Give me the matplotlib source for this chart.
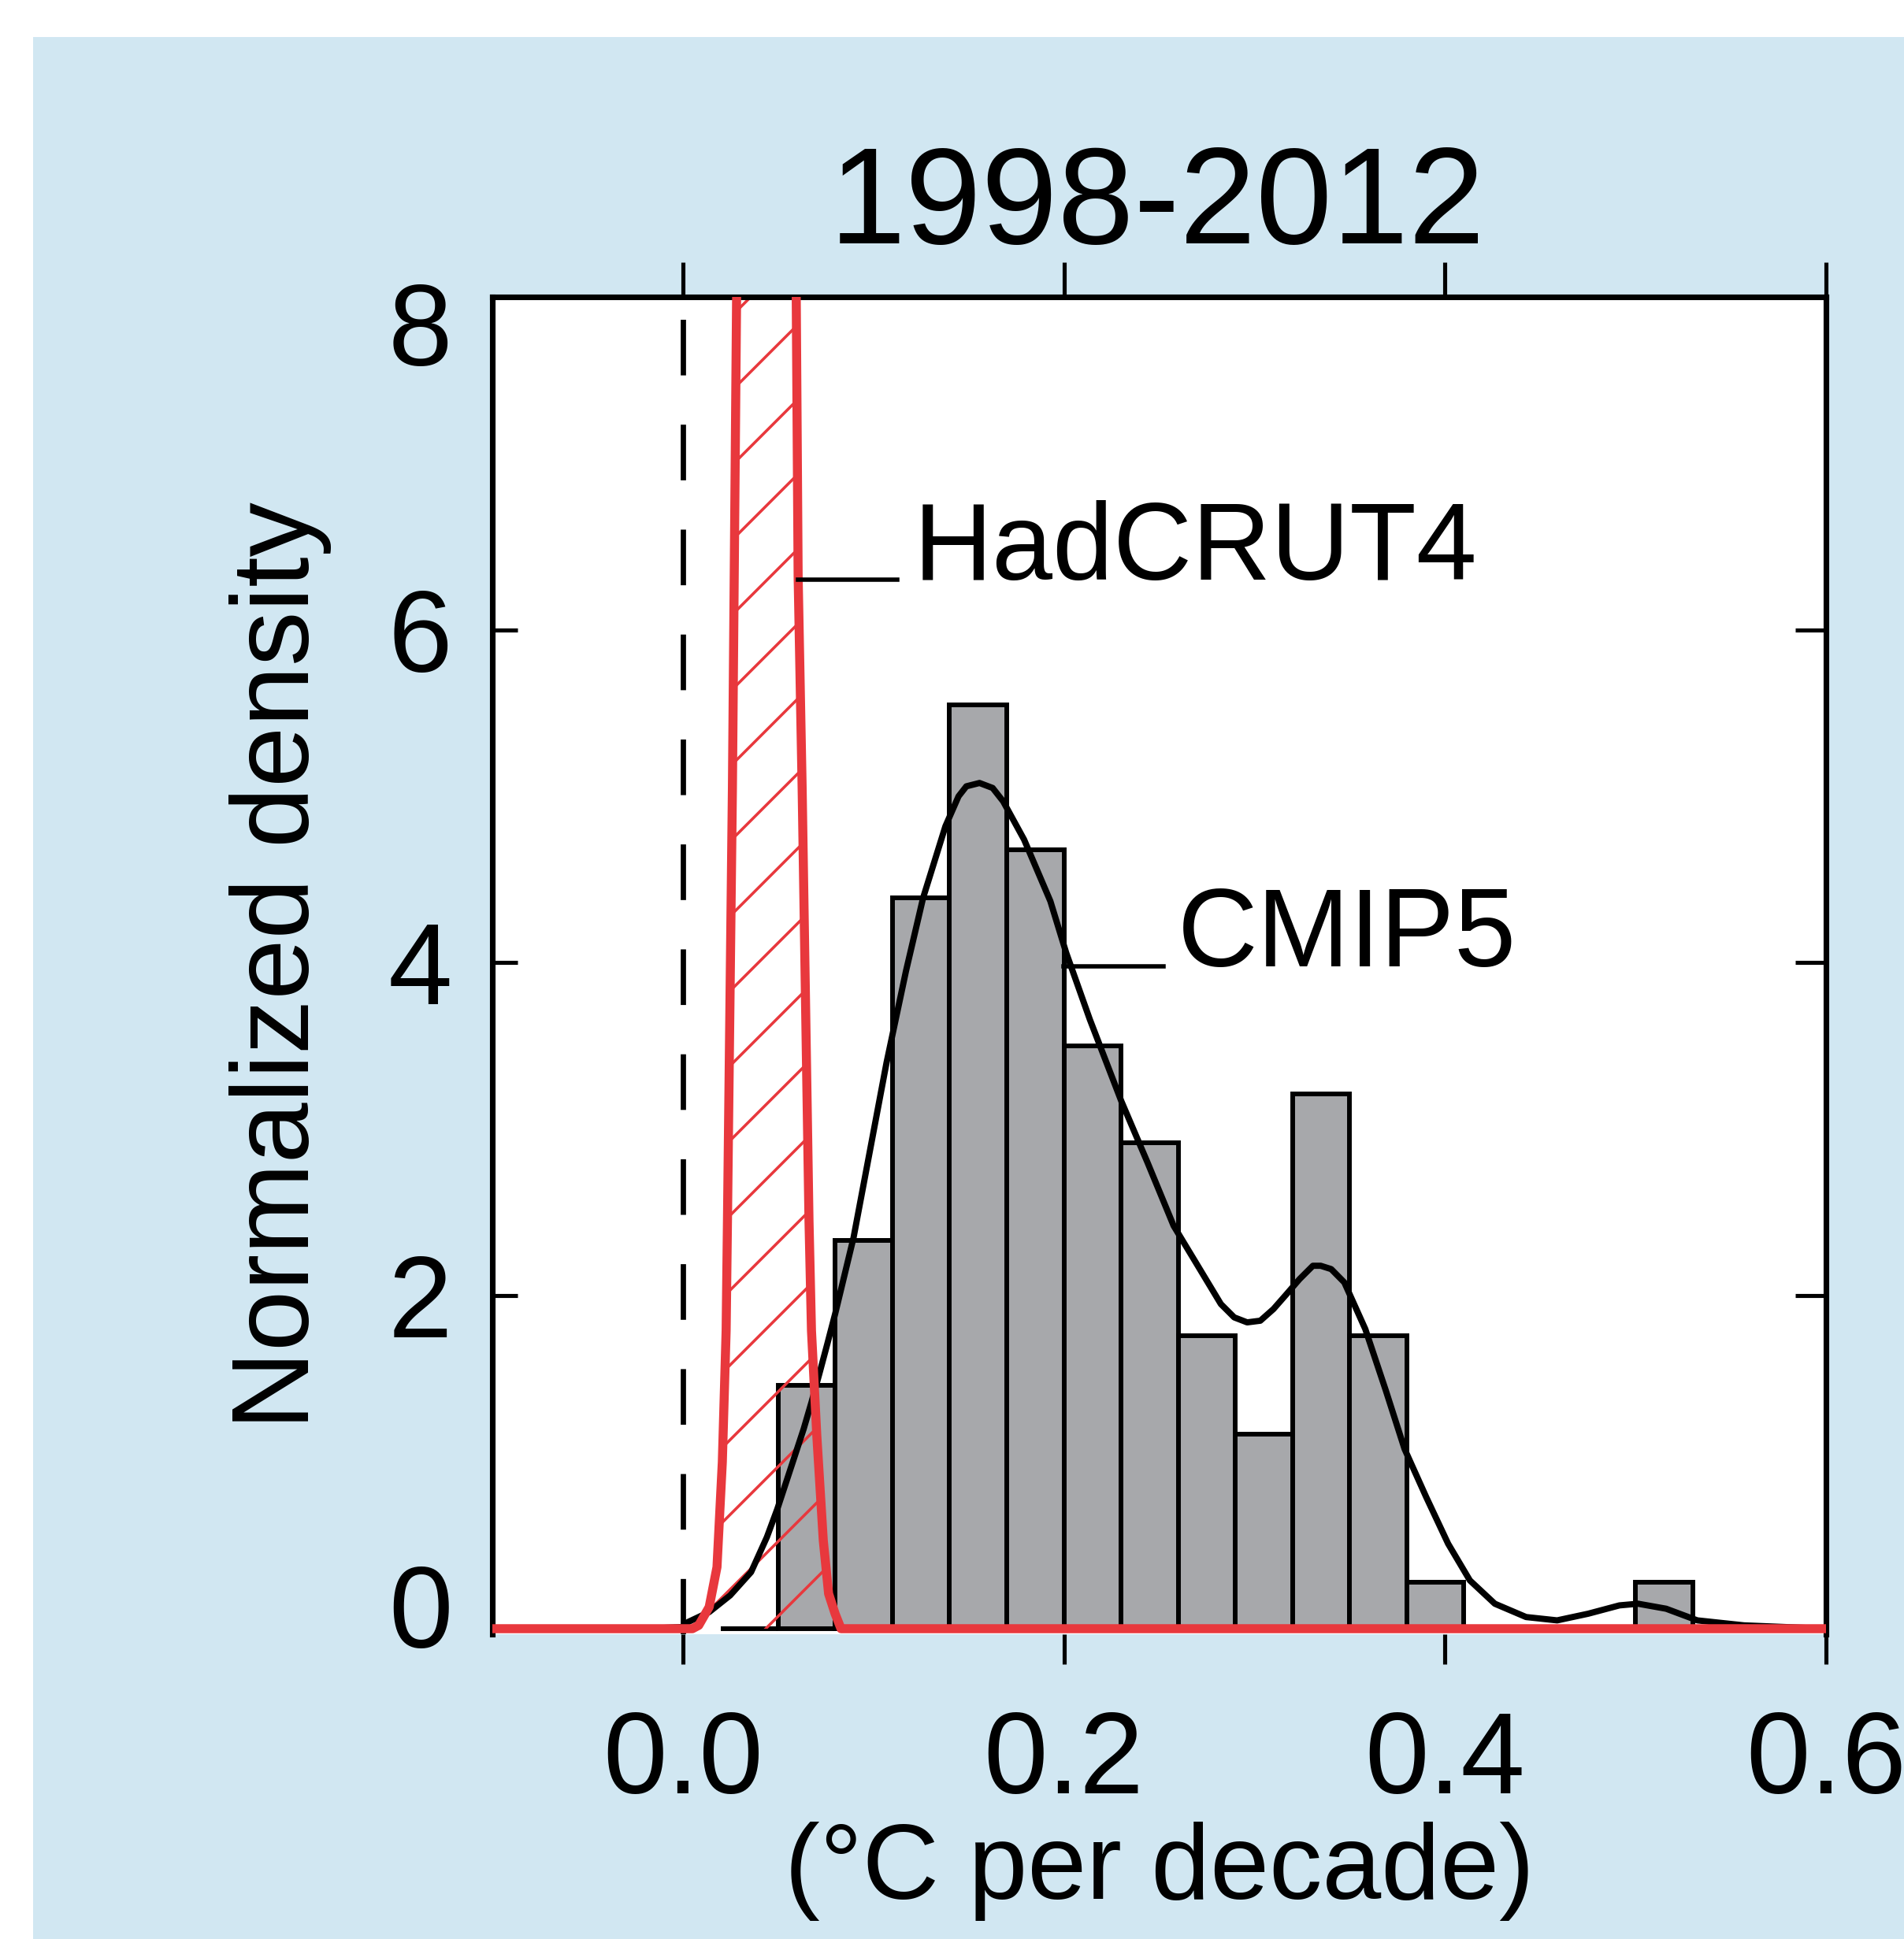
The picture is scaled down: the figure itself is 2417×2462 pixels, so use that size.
import matplotlib
matplotlib.use("Agg")
import matplotlib.pyplot as plt
import matplotlib.transforms as mtransforms
from matplotlib.patches import Rectangle

DPI = 570  # hatch spacing in matplotlib is tied to dpi, this gives the wide hatch of the original

# CMIP5 histogram: left bin edges and normalized density
bin_left = [0.02, 0.05, 0.08, 0.11, 0.14, 0.17, 0.20, 0.23, 0.26, 0.29, 0.32, 0.35, 0.38, 0.50]
bin_density = [0.0, 1.46, 2.33, 4.39, 5.55, 4.68, 3.50, 2.92, 1.76, 1.17, 3.21, 1.76, 0.28, 0.28]
bin_width = 0.03

# smoothed CMIP5 density (black curve)
cmip_x = [-0.10, -0.02, 0.0, 0.0027, 0.0138, 0.0248, 0.0358, 0.0441, 0.0496, 0.0565,
          0.0634, 0.0675, 0.0716, 0.0758, 0.0799, 0.0896, 0.1069, 0.1171, 0.1261, 0.1378,
          0.1447, 0.1488, 0.1557, 0.1626, 0.1681, 0.1791, 0.1929, 0.2012, 0.2136, 0.2301,
          0.2439, 0.2576, 0.2687, 0.2824, 0.2894, 0.2962, 0.3031, 0.31, 0.3169, 0.3237,
          0.3307, 0.3348, 0.3403, 0.3472, 0.3582, 0.369, 0.3788, 0.3902, 0.4017, 0.4131,
          0.4262, 0.4426, 0.4589, 0.4752, 0.4916, 0.5014, 0.5161, 0.5325, 0.557, 0.60]
cmip_y = [0.0, 0.0, 0.01, 0.04, 0.10, 0.20, 0.34, 0.55, 0.72, 0.96,
          1.20, 1.36, 1.53, 1.71, 1.89, 2.35, 3.40, 3.95, 4.39, 4.82,
          5.00, 5.06, 5.08, 5.05, 4.97, 4.74, 4.37, 4.06, 3.66, 3.17,
          2.80, 2.42, 2.21, 1.95, 1.87, 1.84, 1.85, 1.92, 2.01, 2.10,
          2.18, 2.18, 2.16, 2.08, 1.80, 1.43, 1.08, 0.79, 0.51, 0.29,
          0.15, 0.07, 0.05, 0.09, 0.14, 0.15, 0.12, 0.05, 0.02, 0.0]

# HadCRUT4 trend distribution (runs off the top of the axes)
had_x = [-0.10, 0.005, 0.0083, 0.0138, 0.0179, 0.0207, 0.0227, 0.0234, 0.026, 0.0282, 0.040,
         0.0595, 0.0605, 0.0626, 0.0662, 0.0675, 0.0703, 0.0737, 0.0765, 0.0799, 0.083, 0.60]
had_y = [0.0, 0.0, 0.02, 0.13, 0.37, 1.00, 1.79, 2.45, 5.05, 8.0, 22.0,
         8.0, 6.32, 5.05, 2.45, 1.79, 1.16, 0.53, 0.21, 0.09, 0.0, 0.0]

x_ticks = [0.0, 0.2, 0.4, 0.6]
x_ticklabels = ["0.0", "0.2", "0.4", "0.6"]
y_ticks = [0, 2, 4, 6, 8]
y_ticklabels = ["0", "2", "4", "6", "8"]

red = "#e8383d"
bar_grey = "#a7a8ab"
panel_blue = "#d1e7f2"

plt.rcParams['font.family'] = ['Liberation Sans', 'DejaVu Sans']
plt.rcParams['hatch.color'] = red
plt.rcParams['hatch.linewidth'] = 0.45

fig = plt.figure(figsize=(2417 / DPI, 2462 / DPI), dpi=DPI, facecolor="white")
# light blue panel behind the plot
fig.patches.append(Rectangle((42 / 2417, 0), 1 - 42 / 2417, 1 - 47 / 2462,
                             transform=fig.transFigure, facecolor=panel_blue,
                             edgecolor="none", zorder=-10))

ax = fig.add_axes([0.2586, 0.1572, 0.7004, 0.6897])
ax.set_facecolor("white")

ax.bar(bin_left, bin_density, width=bin_width, align="edge", color=bar_grey,
       edgecolor="black", linewidth=0.75, zorder=2)
ax.fill_between(had_x, had_y, 0, facecolor="none", edgecolor=red, hatch="//",
                linewidth=0, zorder=2.5)
ax.plot(cmip_x, cmip_y, color="black", lw=1.0, zorder=3, solid_joinstyle="round")
ax.plot(had_x, had_y, color=red, lw=1.45, zorder=3.5, solid_joinstyle="round")
ax.axvline(0, color="black", lw=0.85, dashes=(10.5, 9.3), zorder=1.5)

# labels with leader lines
ax.plot([0.0605, 0.1124], [6.30, 6.30], color="black", lw=0.7, zorder=4)
ax.text(0.121, 6.30, "HadCRUT4", fontsize=17.5, va="baseline", ha="left")
ax.plot([0.1998, 0.2522], [3.98, 3.98], color="black", lw=0.7, zorder=4)
ax.text(0.2597, 3.98, "CMIP5", fontsize=17.8, va="baseline", ha="left")

ax.set_xlim(-0.1, 0.6)
ax.set_ylim(-0.033, 8)
ax.set_xticks(x_ticks, x_ticklabels)
ax.set_yticks(y_ticks, y_ticklabels)

ax.tick_params(axis="x", direction="out", top=True, bottom=True, length=4.8,
               width=0.65, pad=7.3, labelsize=18.5)
ax.tick_params(axis="y", direction="in", left=True, right=True, length=4.0,
               width=0.65, pad=6.4, labelsize=18.5)
for t in ax.xaxis.get_major_ticks():
    t.tick2line.set_markersize(5.6)
for t in ax.yaxis.get_major_ticks():
    t.tick2line.set_markersize(4.9)

ax.spines["bottom"].set_visible(False)
for s in ["left", "right", "top"]:
    ax.spines[s].set_linewidth(0.9)

# first and last y labels are nudged inside like in the original
for lab in ax.get_yticklabels():
    if lab.get_text() == "8":
        dy = -4.3
    elif lab.get_text() == "0":
        dy = 3.6
    else:
        continue
    lab.set_transform(lab.get_transform() +
                      mtransforms.ScaledTranslation(0, dy / 72, fig.dpi_scale_trans))

# the original label runs off the bottom edge; kept just inside here
ax.set_xlabel("(°C per decade)", fontsize=17, labelpad=0.8)
ax.set_ylabel("Normalized density", fontsize=17.5, labelpad=9)
fig.text(0.6078, 1 - 309 / 2462, "1998-2012", ha="center", va="baseline", fontsize=22)

fig.savefig("out.png", dpi=DPI, facecolor=fig.get_facecolor())
